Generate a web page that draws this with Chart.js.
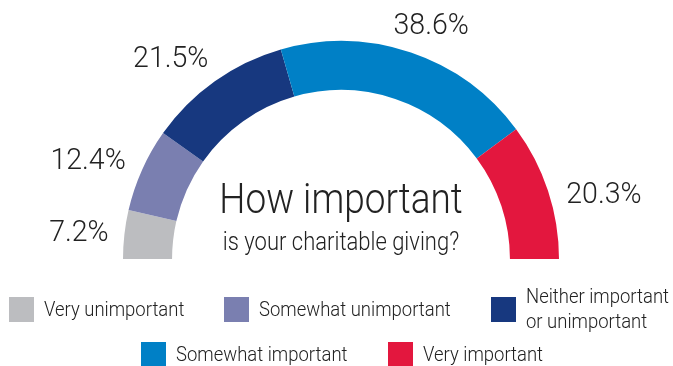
<!DOCTYPE html>
<html>
<head>
<meta charset="utf-8">
<script src="https://cdn.jsdelivr.net/npm/chart.js@4"></script>
<style>
  html, body { margin: 0; padding: 0; background: #fff; }
  #gauge { display: block; }
</style>
</head>
<body>
<canvas id="gauge" width="673" height="366"></canvas>
<script>
// ========== DATA ==========
const categories = ['Very unimportant', 'Somewhat unimportant', 'Neither important or unimportant', 'Somewhat important', 'Very important'];
const shares = [7.2, 12.4, 21.5, 38.6, 20.3];
const colors = ['#bcbdc0', '#7a7fb0', '#17387f', '#0080c6', '#e3173e'];
const titleLines = ['How important', 'is your charitable giving?'];

const FONT = "Roboto, 'Open Sans', sans-serif";
const WEIGHT = 300;
const INK = '#222';

function setFont(ctx, size) {
    ctx.font = WEIGHT + ' ' + size + 'px ' + FONT;
}
function textWidth(ctx, text, sq) {
    return ctx.measureText(text).width * sq;
}
// draws text squeezed horizontally by sq; align: left | center
function drawText(ctx, text, x, y, align, sq) {
    const w = textWidth(ctx, text, sq);
    const left = align === 'center' ? x - w / 2 : x;
    ctx.save();
    ctx.textAlign = 'left';
    ctx.translate(left, y);
    ctx.scale(sq, 1);
    ctx.fillText(text, 0, 0);
    ctx.restore();
}

// ========== PERCENT LABELS (outside each arc) ==========
const arcLabels = {
    id: 'arcLabels',
    afterDatasetsDraw(chart, args, opts) {
        const ctx = chart.ctx;
        const meta = chart.getDatasetMeta(0);
        ctx.save();
        setFont(ctx, 30);
        ctx.fillStyle = INK;
        ctx.textBaseline = 'middle';
        meta.data.forEach((arc, i) => {
            const p = arc.getProps(['x', 'y', 'startAngle', 'endAngle', 'outerRadius'], true);
            const a = (p.startAngle + p.endAngle) / 2;
            const r = p.outerRadius + 16;
            const text = shares[i].toFixed(1) + '%';
            const w = textWidth(ctx, text, 0.95);
            const h = 22;
            const n = opts.nudge[i] || [0, 0];
            const x = p.x + Math.cos(a) * r + Math.cos(a) * w / 2 + n[0];
            const y = p.y + Math.sin(a) * r + Math.sin(a) * h / 2 + n[1];
            drawText(ctx, text, x, y, 'center', 0.95);
        });
        ctx.restore();
    }
};

// ========== TITLE IN THE MIDDLE ==========
const centerTitle = {
    id: 'centerTitle',
    afterDraw(chart) {
        const ctx = chart.ctx;
        const arc = chart.getDatasetMeta(0).data[0];
        const cx = arc.x, cy = arc.y;
        ctx.save();
        ctx.fillStyle = INK;
        ctx.textBaseline = 'alphabetic';
        setFont(ctx, 42);
        drawText(ctx, titleLines[0], cx, cy - 46, 'center', 0.88);
        setFont(ctx, 25);
        drawText(ctx, titleLines[1], cx, cy - 9, 'center', 0.88);
        ctx.restore();
    }
};

// ========== LEGEND ==========
const legendBoxes = {
    id: 'legendBoxes',
    afterDraw(chart, args, opts) {
        const ctx = chart.ctx;
        ctx.save();
        setFont(ctx, opts.fontSize);
        ctx.textBaseline = 'middle';
        opts.slots.forEach((slot, i) => {
            const s = opts.box;
            ctx.fillStyle = colors[i];
            ctx.fillRect(slot.x, slot.y, s, s);
            // simple word wrap
            const words = categories[i].split(' ');
            const lines = [];
            let line = '';
            words.forEach(wd => {
                const test = line ? line + ' ' + wd : wd;
                if (slot.wrap && textWidth(ctx, test, 0.88) > slot.wrap && line) {
                    lines.push(line);
                    line = wd;
                } else {
                    line = test;
                }
            });
            lines.push(line);
            ctx.fillStyle = INK;
            const mid = slot.y + s / 2 + 1;
            const top = mid - (lines.length - 1) * opts.lineHeight / 2;
            lines.forEach((ln, k) => drawText(ctx, ln, slot.x + opts.gap, top + k * opts.lineHeight, 'left', 0.88));
        });
        ctx.restore();
    }
};

new Chart(document.getElementById('gauge'), {
    type: 'doughnut',
    data: {
        labels: categories,
        datasets: [{
            data: shares,
            backgroundColor: colors,
            borderWidth: 0,
            radius: 218,
            cutout: '77.5%'
        }]
    },
    options: {
        responsive: false,
        animation: false,
        rotation: -90,
        circumference: 180,
        layout: { padding: { left: 9, right: 0, top: 0, bottom: 66 } },
        plugins: {
            legend: { display: false },
            tooltip: { enabled: false },
            arcLabels: {
                nudge: [[0, 2], [-5, 3], [-13, 0], [3, 0], [5, 13]]
            },
            legendBoxes: {
                box: 25,
                gap: 35,
                fontSize: 21,
                lineHeight: 25,
                slots: [
                    { x: 9, y: 297 },
                    { x: 224, y: 297 },
                    { x: 491, y: 297, wrap: 150 },
                    { x: 141, y: 342 },
                    { x: 388, y: 342 }
                ]
            }
        }
    },
    plugins: [arcLabels, centerTitle, legendBoxes]
});
</script>
</body>
</html>
